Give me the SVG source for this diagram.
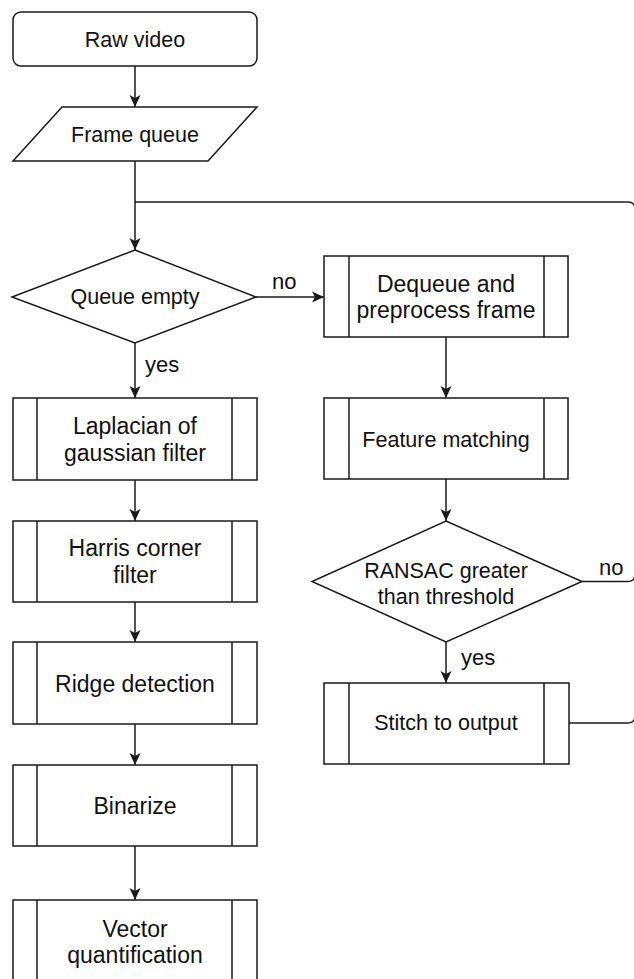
<svg xmlns="http://www.w3.org/2000/svg" width="634" height="979" viewBox="0 0 634 979">
<style>
.s{fill:#fff;stroke:#1a1a1a;stroke-width:1.5}
.l{fill:none;stroke:#1a1a1a;stroke-width:1.5}
text{font-family:"Liberation Sans",Arial,sans-serif;fill:#111;text-anchor:middle}
.a{font-size:21.5px}
.b{font-size:23px}
.lb{font-size:22px;text-anchor:start}
</style>
<defs>
<marker id="ar" markerUnits="userSpaceOnUse" markerWidth="14" markerHeight="14" viewBox="0 0 14 14" refX="12" refY="7" orient="auto">
<path d="M0,1.5 L12,7 L0,12.5 L3,7 z" fill="#1a1a1a"/>
</marker>
</defs>
<rect width="634" height="979" fill="#fff"/>
<g id="connectors">
<line class="l" x1="135" y1="66" x2="135" y2="107" marker-end="url(#ar)"/>
<line class="l" x1="135" y1="161" x2="135" y2="250" marker-end="url(#ar)"/>
<path class="l" d="M569 723 H628 Q635 723 635 716 V209 Q635 202 628 202 H135"/>
<path class="l" d="M582 581.5 H628 Q635 581.5 635 574.5"/>
<line class="l" x1="256" y1="297" x2="324" y2="297" marker-end="url(#ar)"/>
<line class="l" x1="135" y1="343" x2="135" y2="398" marker-end="url(#ar)"/>
<line class="l" x1="135" y1="480" x2="135" y2="521" marker-end="url(#ar)"/>
<line class="l" x1="135" y1="602" x2="135" y2="642" marker-end="url(#ar)"/>
<line class="l" x1="135" y1="724" x2="135" y2="765" marker-end="url(#ar)"/>
<line class="l" x1="135" y1="846" x2="135" y2="900" marker-end="url(#ar)"/>
<line class="l" x1="446" y1="337" x2="446" y2="398" marker-end="url(#ar)"/>
<line class="l" x1="446" y1="479" x2="446" y2="521" marker-end="url(#ar)"/>
<line class="l" x1="446" y1="642" x2="446" y2="683" marker-end="url(#ar)"/>
<text class="lb" x="272" y="289">no</text>
<text class="lb" x="145" y="372">yes</text>
<text class="lb" x="599" y="575">no</text>
<text class="lb" x="461" y="665">yes</text>
</g>
<g id="raw-video">
<rect class="s" x="13" y="12" width="244" height="54" rx="8"/>
<text class="a" x="135" y="47">Raw video</text>
</g>
<g id="frame-queue">
<polygon class="s" points="62,107 257,107 208,161 13,161"/>
<text class="a" x="135" y="142">Frame queue</text>
</g>
<g id="queue-empty">
<polygon class="s" points="135,250 256,297 135,343 12,297"/>
<text class="a" x="135" y="304">Queue empty</text>
</g>
<g id="dequeue">
<rect class="s" x="324" y="256" width="244" height="81"/>
<line class="l" x1="349" y1="256" x2="349" y2="337"/>
<line class="l" x1="544" y1="256" x2="544" y2="337"/>
<text class="b" x="446" y="292">Dequeue and</text>
<text class="b" x="446" y="318">preprocess frame</text>
</g>
<g id="feature-matching">
<rect class="s" x="324" y="398" width="244" height="81"/>
<line class="l" x1="349" y1="398" x2="349" y2="479"/>
<line class="l" x1="544" y1="398" x2="544" y2="479"/>
<text class="a" x="446" y="447">Feature matching</text>
</g>
<g id="ransac">
<polygon class="s" points="446,521 582,581.5 446,642 312,581.5"/>
<text class="a" x="446" y="578">RANSAC greater</text>
<text class="a" x="446" y="604">than threshold</text>
</g>
<g id="stitch">
<rect class="s" x="324" y="683" width="245" height="81"/>
<line class="l" x1="349" y1="683" x2="349" y2="764"/>
<line class="l" x1="544" y1="683" x2="544" y2="764"/>
<text class="a" x="446" y="730">Stitch to output</text>
</g>
<g id="laplacian">
<rect class="s" x="13" y="398" width="244" height="82"/>
<line class="l" x1="37" y1="398" x2="37" y2="480"/>
<line class="l" x1="232" y1="398" x2="232" y2="480"/>
<text class="b" x="135" y="434">Laplacian of</text>
<text class="b" x="135" y="461">gaussian filter</text>
</g>
<g id="harris">
<rect class="s" x="13" y="521" width="244" height="81"/>
<line class="l" x1="37" y1="521" x2="37" y2="602"/>
<line class="l" x1="232" y1="521" x2="232" y2="602"/>
<text class="b" x="135" y="556">Harris corner</text>
<text class="b" x="135" y="583">filter</text>
</g>
<g id="ridge">
<rect class="s" x="13" y="642" width="244" height="82"/>
<line class="l" x1="37" y1="642" x2="37" y2="724"/>
<line class="l" x1="232" y1="642" x2="232" y2="724"/>
<text class="b" x="135" y="692">Ridge detection</text>
</g>
<g id="binarize">
<rect class="s" x="13" y="765" width="244" height="81"/>
<line class="l" x1="37" y1="765" x2="37" y2="846"/>
<line class="l" x1="232" y1="765" x2="232" y2="846"/>
<text class="b" x="135" y="814">Binarize</text>
</g>
<g id="vector">
<rect class="s" x="13" y="900" width="244" height="82"/>
<line class="l" x1="37" y1="900" x2="37" y2="982"/>
<line class="l" x1="232" y1="900" x2="232" y2="982"/>
<text class="b" x="135" y="937">Vector</text>
<text class="b" x="135" y="963">quantification</text>
</g>
</svg>
